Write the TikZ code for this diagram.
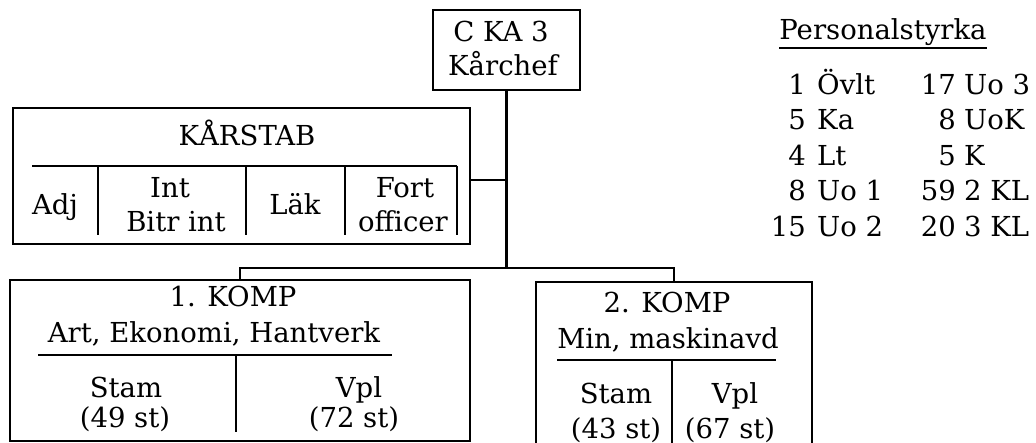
\documentclass[tikz,border=0pt]{standalone}
\usepackage{fontspec}
\setmainfont{DejaVu Serif}
\usetikzlibrary{positioning}
\tikzset{
  box/.style={draw, line width=2.2pt, inner sep=0pt},
  rule/.style={line width=1.8pt},
  link/.style={line width=3.4pt},
  bus/.style={line width=2.6pt},
  lbl/.style={anchor=base, inner sep=0pt, font=\fontsize{27.5}{33}\selectfont},
  num/.style={lbl, anchor=base east},
  word/.style={lbl, anchor=base west},
}
\begin{document}
\begin{tikzpicture}[x=1pt,y=-1pt]
\useasboundingbox (0,0) rectangle (1036,443);
% boxes
\node[box, minimum width=147pt, minimum height=80pt] (chef) at (506.5,50) {};
\node[box, minimum width=457pt, minimum height=136pt] (stab) at (241.5,176) {};
\node[box, minimum width=460pt, minimum height=161pt] (komp1) at (240,360.5) {};
\node[box, minimum width=276pt, minimum height=170pt] (komp2) at (674,367) {};
% connectors
\coordinate (busy) at (0,268);
\coordinate (staby) at (0,180);
\coordinate (fork) at (chef.south |- busy);
\draw[link] (chef.south) -- (fork);
\draw[bus] (stab.east |- staby) -- (fork |- staby);
\draw[bus] (komp1.north) |- (fork) -| (komp2.north);
% inner lines
\draw[rule] (32,166) -- (457,166);
\foreach \x in {98,246,345,457}
  \draw[rule] (\x,166) -- (\x,235);
\draw[rule] (38,355) -- (392,355);
\draw[rule] (236,355) -- (236,432);
\draw[rule] (557,360) -- (776,360);
\draw[rule] (672,360) -- (672,452);
% texts
\node[lbl] (chefa) at (501,42) {C KA 3};
\node[lbl] (chefb) at (503,76) {Kårchef};
\node[lbl] (stabt) at (247,146) {KÅRSTAB};
\node[lbl] (adj) at (55,215) {Adj};
\node[lbl] (inta) at (170,198) {Int};
\node[lbl] (intb) at (176,232) {Bitr int};
\node[lbl] (lak) at (295,215) {Läk};
\node[lbl] (forta) at (405,198) {Fort};
\node[lbl] (fortb) at (403,232) {officer};
\node[lbl] (komp1a) at (233,307) {1. KOMP};
\node[lbl] (komp1b) at (214,343) {Art, Ekonomi, Hantverk};
\node[lbl] (stam1) at (126,397) {Stam};
\node[lbl] (stam1n) at (125,427) {(49 st)};
\node[lbl] (vpl1) at (359,397) {Vpl};
\node[lbl] (vpl1n) at (354,427) {(72 st)};
\node[lbl] (komp2a) at (667,313) {2. KOMP};
\node[lbl] (komp2b) at (668,349) {Min, maskinavd};
\node[lbl] (stam2) at (616,403) {Stam};
\node[lbl] (stam2n) at (616,438) {(43 st)};
\node[lbl] (vpl2) at (735,403) {Vpl};
\node[lbl] (vpl2n) at (730,438) {(67 st)};
% personalstyrka
\node[lbl] (ptitle) at (883,40) {Personalstyrka};
\draw[line width=2pt] ([yshift=-8pt]ptitle.base west) -- ([yshift=-8pt]ptitle.base east);
\foreach \y/\n/\w [count=\i] in {95/1/Övlt, 130/5/Ka, 166/4/Lt, 201/8/Uo 1, 237/15/Uo 2}{
  \node[num] (pln\i) at (806,\y) {\n};
  \node[word] (plw\i) at (817,\y) {\w};
}
\foreach \y/\n/\w [count=\i] in {95/17/Uo 3, 130/8/UoK, 166/5/K, 201/59/2 KL, 237/20/3 KL}{
  \node[num] (prn\i) at (956,\y) {\n};
  \node[word] (prw\i) at (964,\y) {\w};
}
\end{tikzpicture}
\end{document}
